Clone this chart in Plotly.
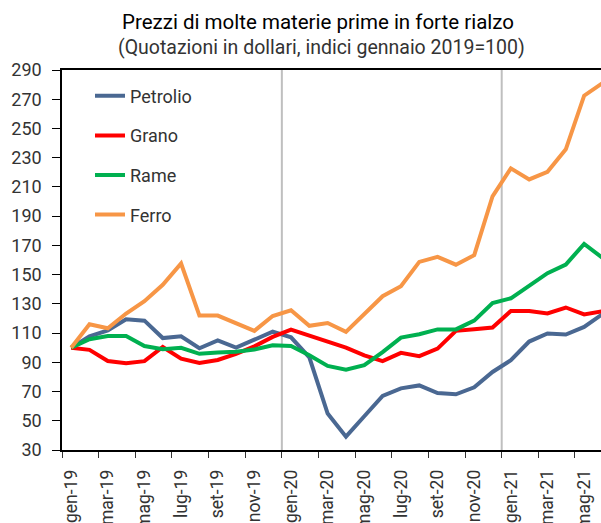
import plotly.graph_objects as go

months = ["gen", "feb", "mar", "apr", "mag", "giu", "lug", "ago", "set", "ott", "nov", "dic"]
labels = [f"{m}-{y}" for y in ["19", "20", "21"] for m in months][:30]

petrolio = [100, 107.8, 111.9, 119.5, 118.5, 106.6, 107.8, 99.6, 105, 100, 105.5, 111, 107.1, 93.4, 54.9,
            39.1, 53.1, 67, 72.2, 74.2, 69, 68.1, 72.9, 83.4, 91.4, 104.2, 109.7, 109, 114.2, 123]
grano = [100, 98.5, 90.9, 89.3, 90.8, 100.5, 92.5, 89.5, 91.6, 95.8, 100.9, 107.4, 112.4, 108.2, 103.5,
         100, 94.8, 90.8, 96.5, 94.2, 99.4, 111.5, 112.6, 113.8, 125.1, 125.1, 123.4, 127.5, 122.8, 125]
rame = [100, 105.8, 108, 108, 101.1, 98.9, 99.9, 95.8, 96.7, 97.2, 98.7, 101.6, 101.2, 94.8, 87.5,
        85, 88, 97, 106.9, 109.2, 112.5, 112.5, 118.5, 130.6, 133.8, 142, 151, 156.9, 171, 161.5]
ferro = [100, 116, 113.3, 123.4, 131.8, 143, 157.6, 122, 122, 117, 111.5, 121.7, 125.6, 115, 116.9,
         110.8, 123.4, 135.2, 142, 158.7, 162.1, 156.8, 163.3, 203.6, 222.7, 215.1, 220.3, 235.7, 272.4, 281]

series = [
    ("Petrolio", petrolio, "#4A6892"),
    ("Grano", grano, "#FF0000"),
    ("Rame", rame, "#00B050"),
    ("Ferro", ferro, "#F79646"),
]

yticks = list(range(30, 291, 20))
xidx = list(range(len(labels)))

fig = go.Figure()
for name, vals, col in series:
    fig.add_trace(go.Scatter(x=xidx, y=vals, name=name, mode="lines",
                             line=dict(color=col, width=4), legendgroup=name))

# year separators at category boundaries
for lab in ["gen-20", "gen-21"]:
    xb = labels.index(lab) - 0.5
    fig.add_shape(type="line", xref="x", yref="paper", x0=xb, x1=xb, y0=0, y1=1,
                  line=dict(color="#BFBFBF", width=2), layer="below")

fig.add_annotation(text="(Quotazioni in dollari, indici gennaio 2019=100)",
                   xref="paper", yref="paper", x=(321 - 62) / 539, y=1 + (70.4 - 48) / 379.2,
                   xanchor="center", yanchor="middle", showarrow=False,
                   font=dict(family="Roboto", size=19.5, color="#333333"))

fig.update_layout(
    width=601, height=523,
    margin=dict(l=62, r=0, t=70.4, b=73.4, autoexpand=False),
    paper_bgcolor="white", plot_bgcolor="white",
    title=dict(text="Prezzi di molte materie prime in forte rialzo", x=318 / 601, xref="container",
               xanchor="center", y=1 - 22 / 523, yref="container", yanchor="middle",
               font=dict(family="Roboto", size=20.5, color="#000000")),
    font=dict(family="Roboto", size=17, color="#333333"),
    showlegend=True,
    legend=dict(x=(90 - 62) / 539, y=1 - (78 - 70.4) / 379.2, xanchor="left", yanchor="top",
                bgcolor="rgba(0,0,0,0)", borderwidth=0, tracegroupgap=13.2,
                font=dict(family="Roboto", size=18, color="#333333")),
    xaxis=dict(range=[-0.5, 28.92], tickmode="array", tickvals=xidx[::2], ticktext=labels[::2],
               tickangle=-90, ticks="", showgrid=False, zeroline=False,
               showline=True, linecolor="#000000", linewidth=1.5, mirror=True,
               ticklabelstandoff=11,
               tickfont=dict(family="Roboto", size=17.5, color="#333333"),
               minor=dict(tickmode="array", tickvals=[i - 0.5 for i in xidx[::2]],
                          ticks="outside", ticklen=6, tickwidth=1.2, tickcolor="#333333",
                          showgrid=False)),
    yaxis=dict(range=[30, 290], tickmode="array", tickvals=yticks, ticks="outside", ticklen=8,
               tickwidth=1.2, tickcolor="#000000", showgrid=False, zeroline=False,
               showline=True, linecolor="#000000", linewidth=1.5,
               ticklabelstandoff=7,
               tickfont=dict(family="Roboto", size=18, color="#333333")),
)

fig.write_html("out.html", config={"displayModeBar": False})
with open("out.html", encoding="utf-8") as f:
    html = f.read()
html = html.replace("<body>", "<body style=\"margin:0;padding:0;overflow:hidden\">", 1)
with open("out.html", "w", encoding="utf-8") as f:
    f.write(html)
